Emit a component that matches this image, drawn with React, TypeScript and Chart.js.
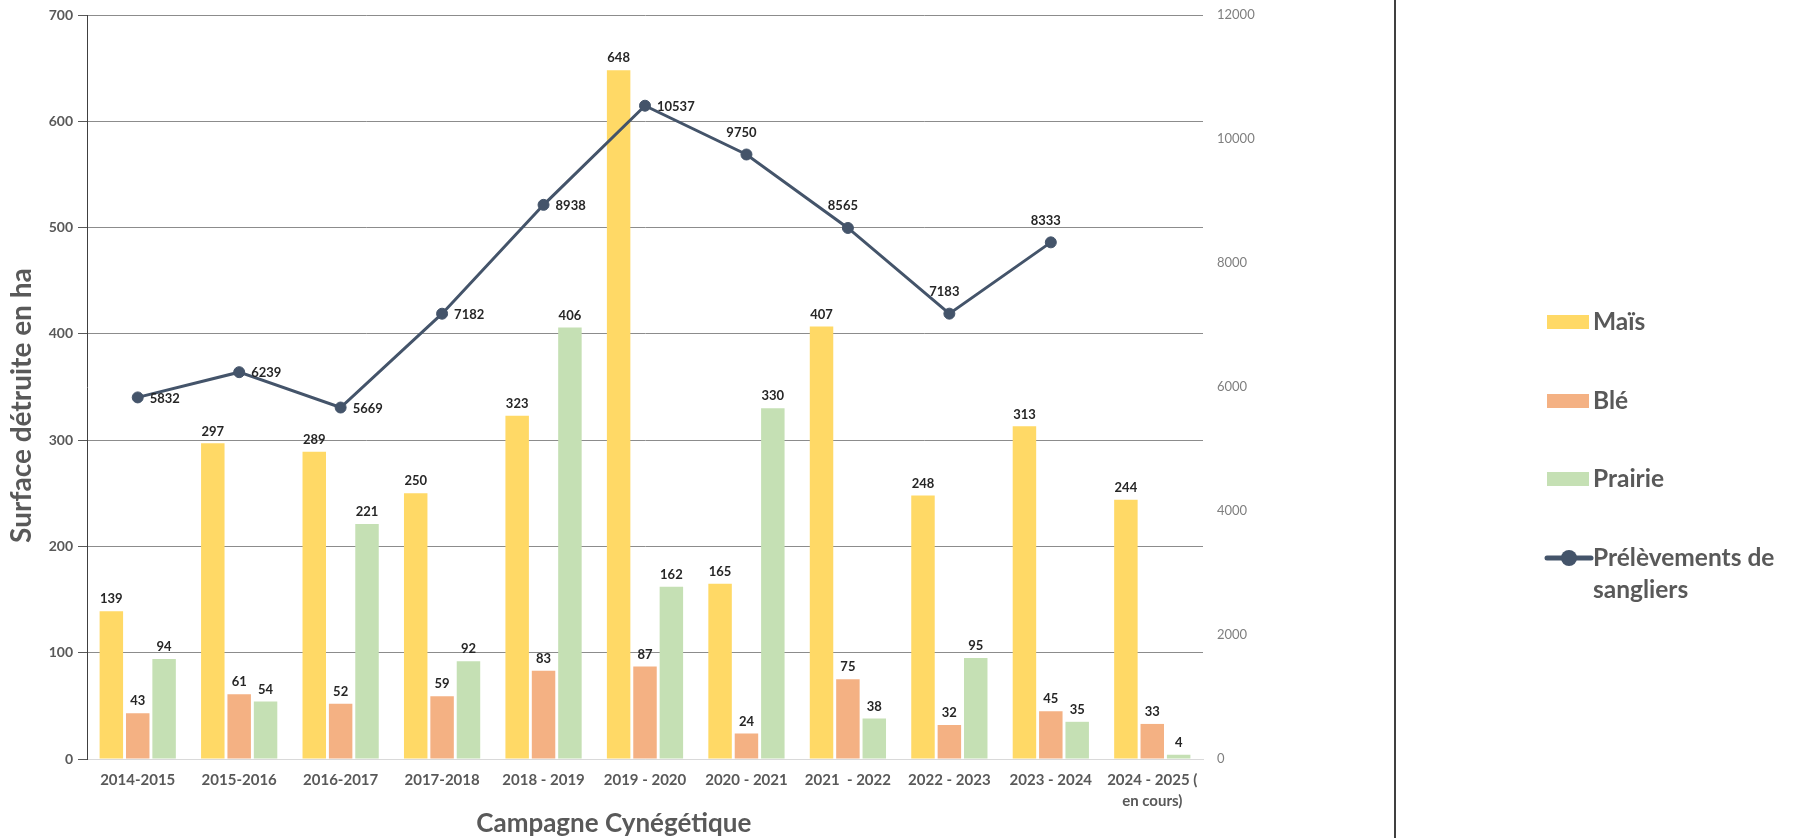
import React, { useEffect, useRef } from 'react';
import { Chart, registerables } from 'chart.js';

Chart.register(...registerables);

const categories: (string | string[])[] = [
  '2014-2015', '2015-2016', '2016-2017', '2017-2018', '2018 - 2019', '2019 - 2020',
  '2020 - 2021', '2021  - 2022', '2022 - 2023', '2023 - 2024', ['2024 - 2025 (', 'en cours)'],
];
const mais = [139, 297, 289, 250, 323, 648, 165, 407, 248, 313, 244];
const ble = [43, 61, 52, 59, 83, 87, 24, 75, 32, 45, 33];
const prairie = [94, 54, 221, 92, 406, 162, 330, 38, 95, 35, 4];
const prelevements = [5832, 6239, 5669, 7182, 8938, 10537, 9750, 8565, 7183, 8333, null];
const prelevLabelSide = ['right', 'right', 'right', 'right', 'right', 'right', 'top', 'top', 'top', 'top', 'right'];
const leftAxis = { min: 0, max: 700, step: 100 };
const rightAxis = { min: 0, max: 12000, step: 2000 };

const seriesNames = ['Maïs', 'Blé', 'Prairie', ['Prélèvements de', 'sangliers']];
const xTitle = 'Campagne Cynégétique';
const yTitle = 'Surface détruite en ha';

const FONT = 'Lato, "Open Sans", sans-serif';
const GREY = '#595959';

const labelsPlugin = {
  id: 'valueLabels',
  afterDatasetsDraw(chart: any) {
    const ctx = chart.ctx;
    ctx.save();
    chart.data.datasets.forEach((ds: any, di: number) => {
      const meta = chart.getDatasetMeta(di);
      meta.data.forEach((el: any, i: number) => {
        const v = ds.data[i];
        if (v === null || v === undefined) return;
        ctx.font = `bold 13px ${FONT}`;
        ctx.fillStyle = '#262626';
        if (ds.type === 'line') {
          if (prelevLabelSide[i] === 'top') {
            ctx.textAlign = 'center';
            ctx.textBaseline = 'middle';
            ctx.fillText(String(v), el.x - 5, el.y - 22);
          } else {
            ctx.textAlign = 'left';
            ctx.textBaseline = 'middle';
            ctx.fillText(String(v), el.x + 12, el.y + 1);
          }
        } else {
          ctx.textAlign = 'center';
          ctx.textBaseline = 'middle';
          ctx.fillText(String(v), el.x, el.y - 12);
        }
      });
    });
    ctx.restore();
  },
};

const decorPlugin = {
  id: 'decor',
  afterDraw(chart: any) {
    const ctx = chart.ctx;
    const area = chart.chartArea;
    ctx.save();
    // x axis title
    ctx.font = `bold 26px ${FONT}`;
    ctx.fillStyle = GREY;
    ctx.textAlign = 'center';
    ctx.textBaseline = 'middle';
    ctx.fillText(xTitle, area.left + area.width * 0.472, 824);

    // y axis title
    ctx.save();
    ctx.translate(22, area.top + area.height * 0.525);
    ctx.rotate(-Math.PI / 2);
    ctx.font = `bold 28px ${FONT}`;
    ctx.fillText(yTitle, 0, 0);
    ctx.restore();

    // legend
    const lx = 1547;
    const ys = [322, 401, 479, 558];
    chart.data.datasets.forEach((ds: any, i: number) => {
      const y = ys[i];
      if (ds.type === 'line') {
        ctx.strokeStyle = ds.borderColor;
        ctx.lineWidth = 5;
        ctx.lineCap = 'round';
        ctx.beginPath();
        ctx.moveTo(lx, y);
        ctx.lineTo(lx + 44, y);
        ctx.stroke();
        ctx.fillStyle = ds.borderColor;
        ctx.beginPath();
        ctx.arc(lx + 22, y, 8, 0, Math.PI * 2);
        ctx.fill();
      } else {
        ctx.fillStyle = ds.backgroundColor;
        ctx.fillRect(lx, y - 7, 42, 14);
      }
      ctx.font = `bold 24.5px ${FONT}`;
      ctx.fillStyle = GREY;
      ctx.textAlign = 'left';
      ctx.textBaseline = 'middle';
      const name = seriesNames[i];
      const lines = Array.isArray(name) ? name : [name];
      lines.forEach((t, k) => ctx.fillText(t, lx + 46, y + k * 32));
    });
    ctx.restore();
  },
};

export default function App() {
  const ref = useRef<HTMLCanvasElement>(null);
  useEffect(() => {
    document.body.style.margin = '0';
    const canvas = ref.current;
    if (!canvas) return;
    const barCommon = {
      type: 'bar' as const,
      yAxisID: 'y',
      order: 1,
      categoryPercentage: 0.78,
      barPercentage: 0.89,
      borderWidth: 0,
    };
    const chart = new Chart(canvas, {
      type: 'bar',
      data: {
        labels: categories,
        datasets: [
          { ...barCommon, label: 'Maïs', data: mais, backgroundColor: '#FFD966' },
          { ...barCommon, label: 'Blé', data: ble, backgroundColor: '#F4B183' },
          { ...barCommon, label: 'Prairie', data: prairie, backgroundColor: '#C5E0B4' },
          {
            type: 'line' as const,
            label: 'Prélèvements de sangliers',
            data: prelevements,
            yAxisID: 'y1',
            order: 0,
            borderColor: '#44546A',
            backgroundColor: '#44546A',
            borderWidth: 3,
            pointRadius: 5.5,
            pointBorderWidth: 1,
            pointBackgroundColor: '#44546A',
            pointBorderColor: '#44546A',
            tension: 0,
          } as any,
        ],
      },
      options: {
        responsive: false,
        animation: false,
        devicePixelRatio: 1,
        layout: { padding: { top: 15, right: 530, bottom: 0, left: 0 } },
        plugins: {
          legend: { display: false },
          tooltip: { enabled: false },
        },
        scales: {
          x: {
            grid: { display: false, drawTicks: false },
            border: { display: true, color: '#D9D9D9', width: 1 },
            ticks: {
              padding: 11,
              color: GREY,
              font: { family: FONT, size: 15, weight: 'bold', lineHeight: 1.4 },
              maxRotation: 0,
              autoSkip: false,
            },
            afterFit: (s: any) => { s.height = 79; },
          },
          y: {
            position: 'left',
            min: leftAxis.min,
            max: leftAxis.max,
            ticks: {
              stepSize: leftAxis.step,
              padding: 5,
              color: GREY,
              font: { family: FONT, size: 14, weight: 'bold' },
            },
            grid: {
              color: (c: any) => (c.tick && c.tick.value === 0 ? '#D9D9D9' : '#8C8C8C'),
              tickColor: '#595959',
              tickLength: 9,
              lineWidth: 1,
            },
            border: { display: true, color: '#404040', width: 1 },
            afterFit: (s: any) => { s.width = 87; },
          },
          y1: {
            position: 'right',
            min: rightAxis.min,
            max: rightAxis.max,
            ticks: {
              stepSize: rightAxis.step,
              padding: 4,
              color: '#7F7F7F',
              font: { family: FONT, size: 13 },
              callback: (v: any) => String(v),
            },
            grid: { display: false, drawTicks: true, tickLength: 10 },
            border: { display: false },
            afterFit: (s: any) => { s.width = 60; },
          },
        },
      } as any,
      plugins: [labelsPlugin, decorPlugin],
    });
    return () => chart.destroy();
  }, []);

  return (
    <div style={{ position: 'relative', width: 1793, height: 838, background: '#fff', overflow: 'hidden' }}>
      <canvas ref={ref} width={1793} height={838} style={{ display: 'block' }} />
      <div style={{ position: 'absolute', left: 1394, top: 0, width: 2, height: 838, background: '#404040' }} />
    </div>
  );
}
